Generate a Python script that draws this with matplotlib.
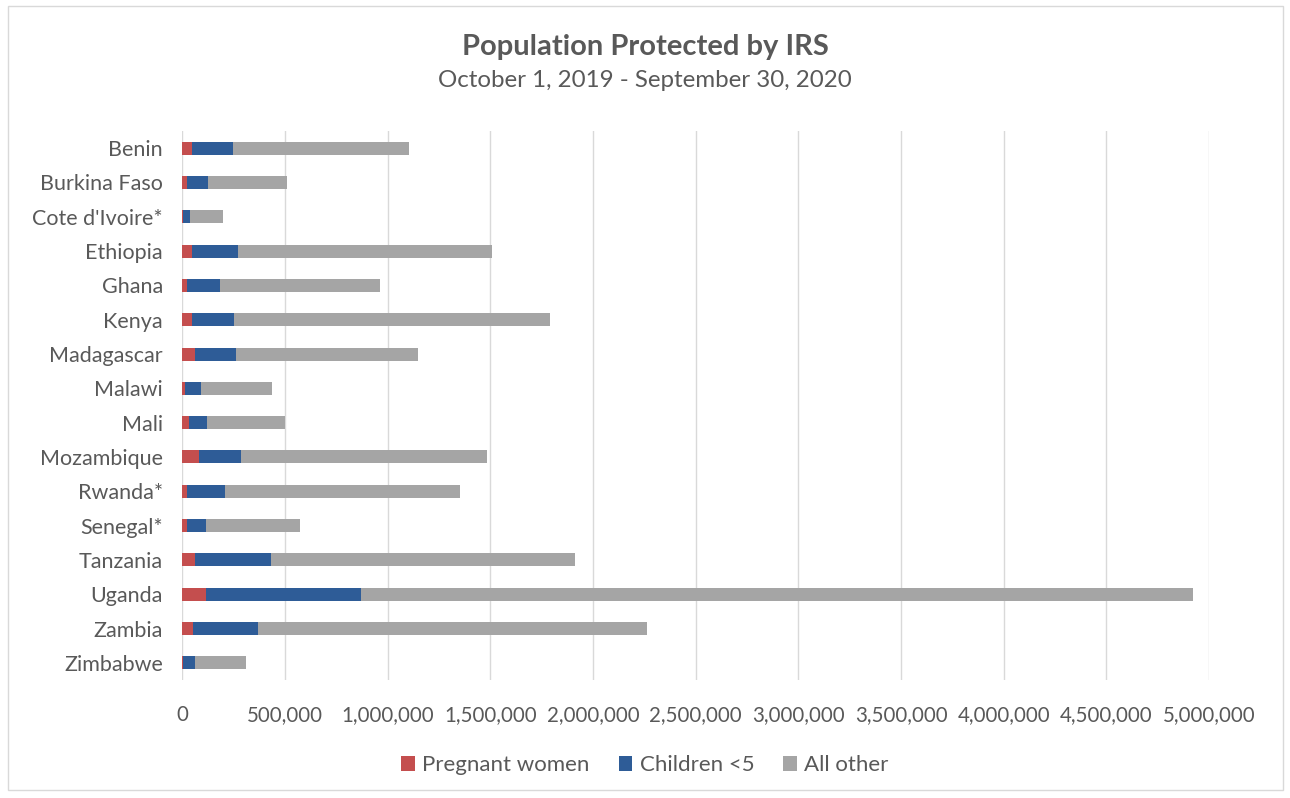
import matplotlib.pyplot as plt
from matplotlib.patches import Rectangle
from matplotlib.ticker import FuncFormatter

# данные
countries = ['Benin', 'Burkina Faso', "Cote d'Ivoire*", 'Ethiopia', 'Ghana', 'Kenya',
             'Madagascar', 'Malawi', 'Mali', 'Mozambique', 'Rwanda*', 'Senegal*',
             'Tanzania', 'Uganda', 'Zambia', 'Zimbabwe']
pregnant = [46000, 24000, 2000, 46000, 24000, 46000, 62000, 13000, 34000, 83000,
            21000, 21000, 62000, 114000, 51000, 3000]
children = [199000, 100000, 34000, 224000, 160000, 207000, 199000, 77000, 88000, 201000,
            185000, 93000, 371000, 756000, 319000, 57000]
totals = [1104000, 511000, 198000, 1509000, 964000, 1789000, 1149000, 438000, 500000, 1485000,
          1352000, 573000, 1912000, 4922000, 2264000, 309000]
other = [t - p - c for t, p, c in zip(totals, pregnant, children)]

series_names = ['Pregnant women', 'Children <5', 'All other']
colors = ['#C44E4E', '#2E5C97', '#A5A5A5']
text_color = '#595959'
font = ['Lato', 'DejaVu Sans']

plt.rcParams['font.family'] = font

fig = plt.figure(figsize=(12.9, 7.98), dpi=100)
ax = fig.add_axes([0.1413, 0.1479, 0.7959, 0.6879])

y = list(range(len(countries)))
h = 0.38
left = [0] * len(countries)
for vals, name, col in zip([pregnant, children, other], series_names, colors):
    ax.barh(y, vals, left=left, height=h, color=col, label=name, zorder=3)
    left = [l + v for l, v in zip(left, vals)]

ax.set_ylim(len(countries) - 0.5, -0.5)
ax.set_xlim(0, 5000000)
ax.set_yticks(y)
ax.set_yticklabels(countries)
ax.set_xticks(range(0, 5000001, 500000))
ax.xaxis.set_major_formatter(FuncFormatter(lambda v, p: f'{int(v):,}'))

ax.grid(axis='x', color='#D9D9D9', linewidth=1, zorder=0)
for s in ax.spines.values():
    s.set_visible(False)
ax.tick_params(length=0, labelcolor=text_color)
ax.tick_params(axis='x', pad=18, labelsize=14.8)
ax.tick_params(axis='y', pad=14, labelsize=15.5)

fig.text(0.5, 0.941, 'Population Protected by IRS', ha='center', va='center',
         fontsize=21, fontweight='bold', color=text_color)
fig.text(0.5, 0.899, 'October 1, 2019 - September 30, 2020', ha='center', va='center',
         fontsize=17.4, color=text_color)

leg = ax.legend(loc='center', ncol=3, frameon=False, fontsize=16, handlelength=0.6,
                handleheight=0.6, handletextpad=0.35, columnspacing=1.3)
for t in leg.get_texts():
    t.set_color(text_color)
leg.set_bbox_to_anchor((0.5, 0.041), transform=fig.transFigure)

fig.patches.append(Rectangle((8 / 1290, 8 / 798), 1275 / 1290, 784 / 798,
                             transform=fig.transFigure, fill=False,
                             edgecolor='#D9D9D9', linewidth=1))

plt.savefig('out.png', dpi=100)
